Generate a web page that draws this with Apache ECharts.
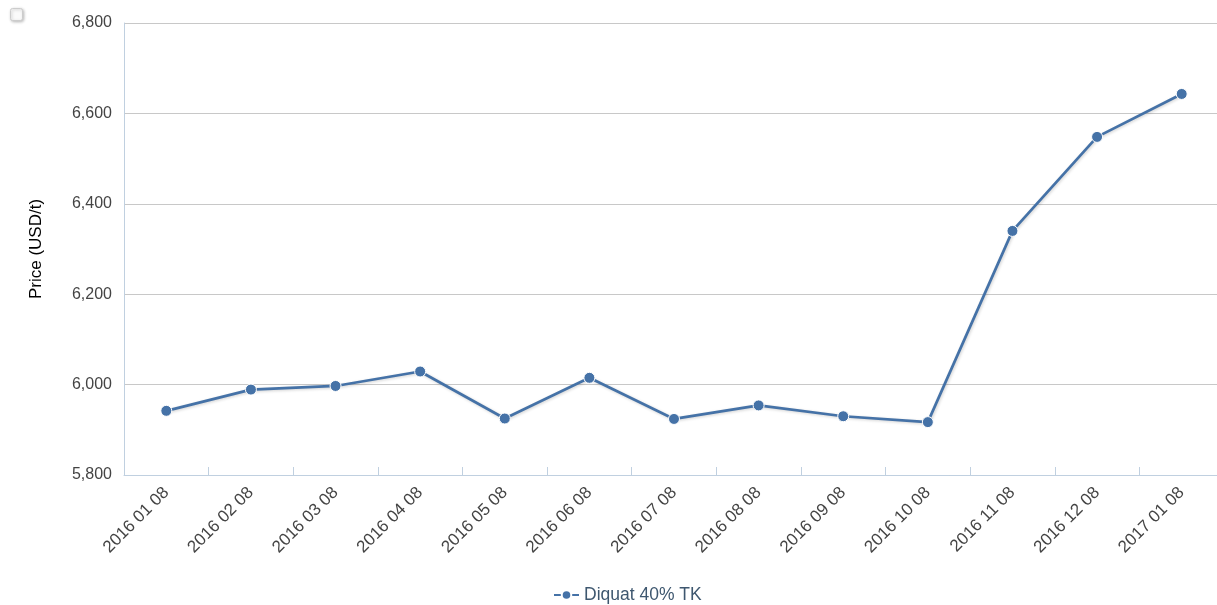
<!DOCTYPE html>
<html>
<head>
<meta charset="utf-8">
<script src="https://cdn.jsdelivr.net/npm/echarts@6/dist/echarts.min.js"></script>
<style>
html,body{margin:0;padding:0;background:#fff;overflow:hidden;}
#chart{width:1224px;height:605px;}
</style>
</head>
<body>
<div id="chart"></div>
<script>
const categories = ['2016 01 08','2016 02 08','2016 03 08','2016 04 08','2016 05 08','2016 06 08','2016 07 08','2016 08 08','2016 09 08','2016 10 08','2016 11 08','2016 12 08','2017 01 08'];
const seriesName = 'Diquat 40% TK';
const values = [5942, 5989, 5997, 6029, 5925, 6015, 5924, 5954, 5930, 5917, 6340, 6548, 6643];
const yTicks = {min: 5800, max: 6800, interval: 200};
const yTitle = 'Price (USD/t)';

const chart = echarts.init(document.getElementById('chart'), null, {renderer: 'canvas'});
const font = '"Liberation Sans", Arial, sans-serif';
chart.setOption({
  animation: false,
  backgroundColor: '#ffffff',
  textStyle: {fontFamily: font},
  grid: {left: 124, right: 0, top: 23, height: 452, containLabel: false},
  legend: {
    top: 581, left: 548,
    itemWidth: 25, itemHeight: 12, itemGap: 11,
    textStyle: {color: '#3E576F', fontSize: 17.5, fontFamily: font},
    data: [seriesName]
  },
  xAxis: {
    type: 'category',
    data: categories,
    boundaryGap: true,
    axisLine: {lineStyle: {color: '#C0D0E0', width: 1}},
    axisTick: {show: true, inside: true, length: 8, lineStyle: {color: '#C0D0E0'}},
    axisLabel: {rotate: 45, color: '#444', fontSize: 17, fontFamily: font, margin: 15, interval: 0},
    splitLine: {show: false}
  },
  yAxis: {
    type: 'value',
    min: yTicks.min, max: yTicks.max, interval: yTicks.interval,
    name: yTitle,
    nameLocation: 'middle',
    nameGap: 79,
    nameRotate: 90,
    nameTextStyle: {color: '#000', fontSize: 17, fontFamily: font},
    axisLine: {show: true, lineStyle: {color: '#C0D0E0'}},
    axisTick: {show: false},
    axisLabel: {color: '#444', fontSize: 16, fontFamily: font, margin: 12,
      formatter: v => v.toLocaleString('en-US')},
    splitLine: {lineStyle: {color: '#C8C8C8', width: 1}}
  },
  series: [{
    name: seriesName,
    type: 'line',
    data: values,
    smooth: false,
    symbol: 'circle',
    symbolSize: 11,
    showAllSymbol: true,
    lineStyle: {color: '#4572A7', width: 2.7, shadowColor: 'rgba(0,0,0,0.18)', shadowBlur: 3, shadowOffsetX: 1, shadowOffsetY: 1},
    itemStyle: {color: '#4572A7', borderColor: '#ffffff', borderWidth: 1}
  }],
  graphic: [{
    type: 'rect',
    left: 10, top: 8,
    shape: {width: 12, height: 12, r: 2},
    style: {fill: '#fafafa', stroke: '#cccccc', lineWidth: 1, shadowColor: 'rgba(0,0,0,0.25)', shadowBlur: 3, shadowOffsetX: 1, shadowOffsetY: 1}
  }]
});
</script>
</body>
</html>
